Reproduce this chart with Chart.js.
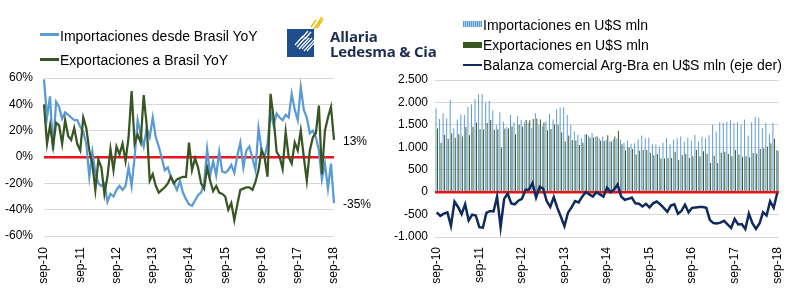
<!DOCTYPE html>
<html>
<head>
<meta charset="utf-8">
<script src="https://cdn.jsdelivr.net/npm/chart.js@4.4.0/dist/chart.umd.min.js"></script>
<style>
  body { margin: 0; background: #fff; font-family: "Liberation Sans", Arial, sans-serif; }
  #wrap { position: relative; width: 798px; height: 297px; overflow: hidden; }
  .box { position: absolute; top: 0; height: 297px; }
  .leg { position: absolute; font-size: 14px; line-height: 16px; color: #000; white-space: nowrap; }
  .key { position: absolute; }
  .brand { position: absolute; left: 330px; top: 29px; font: bold 15px "Open Sans", sans-serif; line-height: 15px; color: #1c2d4f; letter-spacing: -0.2px; }
</style>
</head>
<body>
<div id="wrap">
  <div class="box" style="left:0;width:400px"><canvas id="c1"></canvas></div>
  <div class="box" style="left:390px;width:408px"><canvas id="c2"></canvas></div>

  <!-- left legend -->
  <div class="key" style="left:40px;top:33px;width:19px;height:2.5px;background:#5b9bd5"></div>
  <div class="leg" style="left:60px;top:28px">Importaciones desde Brasil YoY</div>
  <div class="key" style="left:40px;top:58px;width:19px;height:2.5px;background:#375623"></div>
  <div class="leg" style="left:60px;top:52px">Exportaciones a Brasil YoY</div>

  <!-- right legend -->
  <div class="key" style="left:463px;top:21px;width:19px;height:6px;background:repeating-linear-gradient(90deg,#5b9bd5 0 1px,#a9cbea 1px 2px)"></div>
  <div class="leg" style="left:483px;top:17px">Importaciones en U$S mln</div>
  <div class="key" style="left:463px;top:42px;width:19px;height:6px;background:#385723"></div>
  <div class="leg" style="left:483px;top:37px">Exportaciones en U$S mln</div>
  <div class="key" style="left:463px;top:64px;width:19px;height:2px;background:#102a5c"></div>
  <div class="leg" style="left:483px;top:57px">Balanza comercial Arg-Bra en U$S mln (eje der)</div>

  <!-- logo -->
  <svg style="position:absolute;left:282px;top:14px" width="48" height="48">
    <defs><clipPath id="sq"><rect x="5" y="15" width="27" height="28"/></clipPath></defs>
    <rect x="5" y="15" width="27" height="28" fill="#1f4e8c"/>
    <g clip-path="url(#sq)" stroke="#fff" stroke-width="1.2">
      <line x1="13" y1="31" x2="21" y2="22"/>
      <line x1="15" y1="33" x2="24" y2="23"/>
      <line x1="17" y1="35" x2="27" y2="24"/>
      <line x1="20" y1="35" x2="30" y2="24"/>
      <line x1="22" y1="37" x2="33" y2="25"/>
      <line x1="25" y1="37" x2="33" y2="28"/>
      <line x1="20" y1="24" x2="26" y2="17"/>
      <line x1="23" y1="25" x2="29" y2="18"/>
    </g>
    <g stroke="#f2b600" stroke-width="1.4">
      <line x1="29" y1="13" x2="34" y2="6"/>
      <line x1="32" y1="15" x2="38" y2="7"/>
      <line x1="35" y1="14" x2="41" y2="5"/>
      <line x1="36" y1="9" x2="40" y2="3"/>
    </g>
  </svg>
  <div class="brand">Allaria<br>Ledesma &amp; Cia</div>
</div>

<script>
// months sep-10 .. sep-18
const monthNames = ['ene','feb','mar','abr','may','jun','jul','ago','sep','oct','nov','dic'];
const months = [];
for (let k = 0; k < 97; k++) {
  const m = (8 + k) % 12;
  const y = 10 + Math.floor((8 + k) / 12);
  months.push(monthNames[m] + '-' + y);
}

// YoY %, left chart
const impYoy = [
  59, 30, 46, 5, 42, 38, 29, 34, 32, 30, 28, 28, 23,
  19, 10, -15, 4, -12, -20, -22, -20, -34, -28, -30, -25,
  -22, -25, -22, -8, -22, 0, 28, 17, 8, 22, 15, 30,
  15, 8, -1, -10, -8, -15, -20, -25, -18, -27, -32, -36,
  -37, -33, -29, -27, -20, 6, -14, -3, -14, 4, -11, -12,
  -10, -6, -12, 1, 11, -8, 5, 8, -1, -10, 22, 6,
  0, 10, 34, 24, 33, 30, 28, 32, 30, 48, 36, 28,
  53, 36, 30, 18, 20, 15, 5, -17, -5, -24, -5, -35
];
const expYoy = [
  40, 10, 24, 8, 26, 24, 10, 28, 16, 13, 22, 10, 5,
  30, 22, 5, -5, -25, -2, -8, -28, -15, 6, -10, 8,
  2, 10, -3, 15, 50, 10, 17, 11, 47, 24, -18, -13,
  -22, -27, -25, -23, -20, -15, -20, -17, -16, -15, -15, 11,
  -10, -1, -8, -20, -24, -8, -18, -26, -22, -27, -28, -30,
  -40, -35, -48, -36, -25, -24, -23, -23, -25, -19, -10, 5,
  0, -15, 48, 30, 4, 0, -9, 19, 0, -5, 11, 5,
  20, 0, -18, 5, 15, 18, 39, -13, 20, 30, 38, 13
];

// U$S mln, right chart
const impUsd = [
  1870, 1630, 1760, 1640, 2060, 1420, 1620, 1730, 1720, 1900, 1960, 2070, 2180,
  2190, 2000, 2030, 1820, 1500, 1780, 1570, 1450, 1720, 1560, 1690, 1610,
  1560, 1540, 1430, 1760, 1500, 1470, 1580, 1740, 1620, 1850, 1880, 1890,
  1720, 1500, 1350, 1280, 1200, 1290, 1260, 1320, 1240, 1200, 1240, 1170,
  1130, 1180, 1200, 1170, 1100, 1150, 1080, 1090, 1180, 1260, 1200, 1220,
  1070, 1060, 1020, 1100, 1200, 1060, 1170, 1200, 1240, 1130, 1210, 1150,
  1280, 1130, 1240, 1200, 1270, 1500, 1350, 1560, 1540, 1570, 1600, 1540,
  1560, 1500, 1620, 1260, 1560, 1680, 1660, 1430, 1540, 1290, 1540, 940
];
const expUsd = [
  1420, 1100, 1280, 1190, 1310, 1210, 1290, 1240, 1450, 1270, 1460, 1550, 1400,
  1400, 1540, 1610, 1390, 1400, 1000, 1420, 1420, 1470, 1290, 1500, 1460,
  1610, 1600, 1630, 1640, 1620, 1550, 1380, 1410, 1510, 1500, 1330, 1130,
  1260, 1160, 1150, 1050, 1100, 1290, 1210, 1220, 1240, 1150, 1140, 1270,
  1130, 1240, 1370, 1070, 930, 1000, 960, 840, 920, 940, 940, 880,
  820, 850, 750, 750, 760, 760, 900, 720, 820, 850, 760, 800,
  940, 800, 910, 850, 650, 810, 650, 880, 900, 850, 800, 940,
  840, 790, 800, 780, 870, 860, 960, 980, 1020, 1090, 1190, 920
];
const balUsd = [
  -450, -530, -480, -450, -750, -210, -330, -490, -270, -630, -500, -520, -780,
  -790, -460, -420, -430, -100, -780, -150, -30, -250, -270, -190, -150,
  50, 60, 200, -120, 120, 80, -200, -330, -110, -350, -550, -760,
  -460, -340, -200, -230, -100, 0, -50, -100, 0, -50, -100, 100,
  0, 60, 170, -100, -170, -150, -120, -250, -260, -320, -260, -340,
  -250, -210, -270, -350, -440, -300, -270, -480, -420, -280, -450, -350,
  -340, -330, -330, -350, -620, -690, -700, -680, -640, -720, -800, -600,
  -720, -710, -820, -480, -690, -820, -700, -450, -520, -200, -350, -20
];

const fontFam = '"Liberation Sans", Arial, sans-serif';
Chart.defaults.font.family = fontFam;
Chart.defaults.font.size = 12;
Chart.defaults.color = '#000';

const zeroGrid = {
  color: c => c.tick && c.tick.value === 0 ? '#e8141b' : '#d9d9d9',
  lineWidth: c => c.tick && c.tick.value === 0 ? 2.5 : 1,
  drawTicks: false
};

const sepTicks = (pad) => ({
  autoSkip: false,
  maxRotation: 90,
  minRotation: 90,
  padding: pad,
  callback: function (v, i) { return i % 12 === 0 ? months[i] : ''; }
});

const fmtMiles = v => (v < 0 ? '-' : '') + Math.abs(v).toString().replace(/\B(?=(\d{3})+(?!\d))/g, '.');

// value labels at the end of the YoY lines
const endLabels = {
  id: 'endLabels',
  afterDatasetsDraw(chart) {
    const ctx = chart.ctx;
    ctx.save();
    ctx.font = '12px ' + fontFam;
    ctx.fillStyle = '#000';
    ctx.textBaseline = 'middle';
    chart.data.datasets.forEach((ds, i) => {
      const pts = chart.getDatasetMeta(i).data;
      const p = pts[pts.length - 1];
      ctx.fillText(ds.data[ds.data.length - 1] + '%', p.x + 9, p.y + 2);
    });
    ctx.restore();
  }
};

new Chart(document.getElementById('c1'), {
  type: 'line',
  data: {
    labels: months,
    datasets: [
      { label: 'Exportaciones a Brasil YoY', data: expYoy, borderColor: '#375623', borderWidth: 2.25 },
      { label: 'Importaciones desde Brasil YoY', data: impYoy, borderColor: '#5b9bd5', borderWidth: 2.25 }
    ]
  },
  options: {
    responsive: true,
    maintainAspectRatio: false,
    animation: false,
    devicePixelRatio: 1,
    layout: { padding: { top: 78, right: 66, bottom: 0, left: 0 } },
    elements: { point: { radius: 0 }, line: { tension: 0 } },
    plugins: { legend: { display: false }, tooltip: { enabled: false } },
    scales: {
      x: {
        grid: { display: false },
        border: { display: false },
        ticks: sepTicks(3),
        afterFit: s => { s.height = 61; }
      },
      y: {
        min: -60,
        max: 60,
        ticks: { stepSize: 20, padding: 11, callback: v => v + '%' },
        grid: zeroGrid,
        border: { display: false },
        afterFit: s => { s.width = 44; }
      }
    }
  },
  plugins: [endLabels]
});

new Chart(document.getElementById('c2'), {
  type: 'bar',
  data: {
    labels: months,
    datasets: [
      { type: 'line', label: 'Balanza comercial Arg-Bra en U$S mln (eje der)', data: balUsd,
        borderColor: '#102a5c', borderWidth: 2.5, pointRadius: 0, tension: 0, order: 0 },
      { label: 'Importaciones en U$S mln', data: impUsd, backgroundColor: '#5b9bd5',
        categoryPercentage: 0.85, barPercentage: 0.65, order: 1 },
      { label: 'Exportaciones en U$S mln', data: expUsd, backgroundColor: '#385723',
        categoryPercentage: 0.85, barPercentage: 0.65, order: 1 }
    ]
  },
  options: {
    responsive: true,
    maintainAspectRatio: false,
    animation: false,
    devicePixelRatio: 1,
    layout: { padding: { top: 80, right: 19, bottom: 0, left: 0 } },
    plugins: { legend: { display: false }, tooltip: { enabled: false } },
    scales: {
      x: {
        offset: true,
        grid: { display: false },
        border: { display: false },
        ticks: sepTicks(2),
        afterFit: s => { s.height = 60; }
      },
      y: {
        min: -1000,
        max: 2500,
        ticks: { stepSize: 500, padding: 7, callback: fmtMiles },
        grid: zeroGrid,
        border: { display: false },
        afterFit: s => { s.width = 45; }
      }
    }
  }
});
</script>
</body>
</html>
